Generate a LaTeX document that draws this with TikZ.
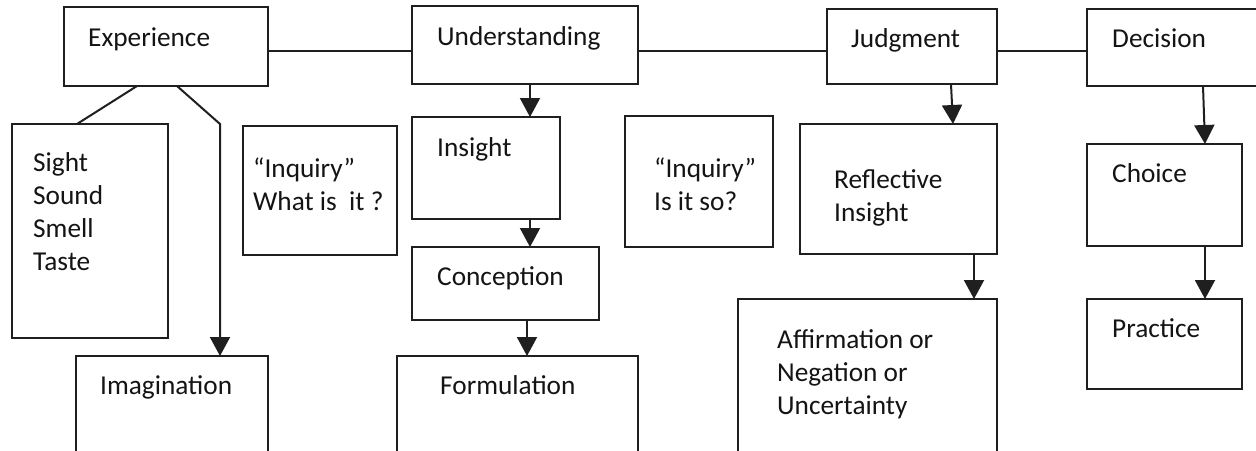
\documentclass[tikz,border=0pt]{standalone}
\usepackage{fontspec}
\setmainfont{Carlito}
\usetikzlibrary{arrows.meta,calc}
\newcommand\bxlines[1]{\begin{tabular}[t]{@{}l@{}}#1\end{tabular}}
\begin{document}
\begin{tikzpicture}[x=1pt,y=-1pt,
  box/.style={draw=black!88,line width=2pt,inner sep=0pt,outer sep=0pt,anchor=north west},
  txt/.style={anchor=base west,inner sep=0pt,text=black!92},
  ln/.style={draw=black!88,line width=2pt},
  arr/.style={ln,-{Triangle[length=19pt,width=20pt]}},
  font=\fontsize{27.3}{33}\selectfont]
\useasboundingbox (0,0) rectangle (1256,450);
\clip (0,0) rectangle (1256,450);
\fill[white] (0,0) rectangle (1256,450);
% boxes
\node[box,minimum width=204pt,minimum height=79pt] (exp) at (64,7) {};
\node[box,minimum width=156pt,minimum height=214pt] (sight) at (12,124) {};
\node[box,minimum width=192pt,minimum height=110pt] (img) at (76,356) {};
\node[box,minimum width=154pt,minimum height=129pt] (inq1) at (243,126) {};
\node[box,minimum width=226pt,minimum height=78pt] (und) at (412,6) {};
\node[box,minimum width=148pt,minimum height=102pt] (ins) at (412,117) {};
\node[box,minimum width=187pt,minimum height=73pt] (con) at (412,247) {};
\node[box,minimum width=241pt,minimum height=110pt] (form) at (397,356) {};
\node[box,minimum width=148pt,minimum height=131pt] (inq2) at (625,116) {};
\node[box,minimum width=170pt,minimum height=75pt] (jud) at (827,9) {};
\node[box,minimum width=197pt,minimum height=130pt] (refl) at (800,124) {};
\node[box,minimum width=259pt,minimum height=170pt] (aff) at (738,299) {};
\node[box,minimum width=200pt,minimum height=77pt] (dec) at (1087,9) {};
\node[box,minimum width=155pt,minimum height=102pt] (cho) at (1087,144) {};
\node[box,minimum width=155pt,minimum height=90pt] (pra) at (1087,299) {};
% texts
\node[txt] (expT) at (88,46) {Experience};
\node[txt] (sightT) at (33,171) {\bxlines{Sight\\Sound\\Smell\\Taste}};
\node[txt] (inq1T) at (253,177) {\bxlines{“Inquiry”\\What is~ it ?}};
\node[txt] (imgT) at (100,394) {Imagination};
\node[txt] (undT) at (437,45) {Understanding};
\node[txt] (insT) at (437,156) {Insight};
\node[txt] (conT) at (437,285) {Conception};
\node[txt] (formT) at (440,394) {Formulation};
\node[txt] (inq2T) at (654,177) {\bxlines{“Inquiry”\\Is it so?}};
\node[txt] (judT) at (851,47) {Judgment};
\node[txt] (reflT) at (834,188) {\bxlines{Reflective\\Insight}};
\node[txt] (affT) at (777,348) {\bxlines{Affirmation or\\Negation or\\Uncertainty}};
\node[txt] (decT) at (1112,47) {Decision};
\node[txt] (choT) at (1112,182) {Choice};
\node[txt] (praT) at (1112,337) {Practice};
% connectors
\coordinate (hy) at (0,51);
\coordinate (bend) at (220,124);
\draw[ln] (exp.east |- hy) -- (und.west |- hy);
\draw[ln] (und.east |- hy) -- (jud.west |- hy);
\draw[ln] (jud.east |- hy) -- (dec.west |- hy);
\draw[ln] ([xshift=73pt]exp.south west) -- ([xshift=65pt]sight.north west);
\draw[arr] ([xshift=113pt]exp.south west) -- (bend) -- (bend |- img.north);
\draw[arr] ([xshift=118pt]und.south west) -- ([xshift=118pt]ins.north west);
\draw[arr] ([xshift=118pt]ins.south west) -- ([xshift=118pt]con.north west);
\draw[arr] ([xshift=115pt]con.south west) -- ([xshift=130pt]form.north west);
\draw[arr] ([xshift=124pt]jud.south west) -- ([xshift=153pt]refl.north west);
\draw[arr] ([xshift=174pt]refl.south west) -- ([xshift=236pt]aff.north west);
\draw[arr] ([xshift=116pt]dec.south west) -- ([xshift=118pt]cho.north west);
\draw[arr] ([xshift=118pt]cho.south west) -- ([xshift=118pt]pra.north west);
\end{tikzpicture}
\end{document}
